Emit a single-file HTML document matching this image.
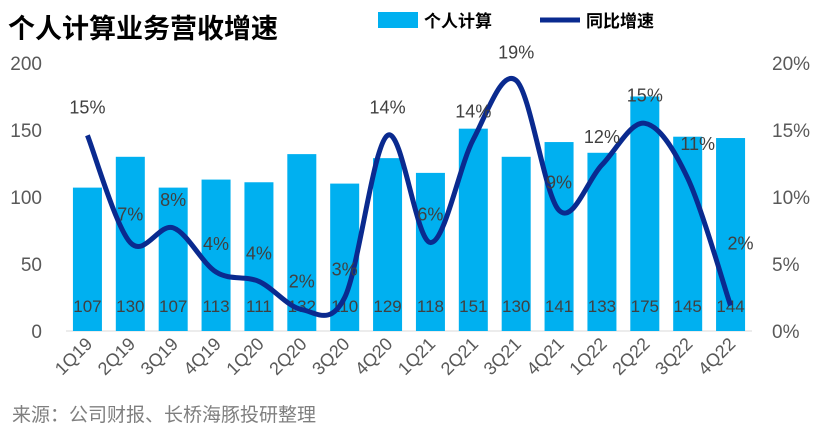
<!DOCTYPE html>
<html><head><meta charset="utf-8"><style>
body{margin:0;background:#fff;}
svg text{font-family:"Liberation Sans","Noto Sans CJK SC",sans-serif;}
</style></head><body>
<svg id="c" width="826" height="440" xmlns="http://www.w3.org/2000/svg">
<text x="8" y="38" font-size="27" font-weight="bold" fill="#000">个人计算业务营收增速</text>
<g>
<rect x="378" y="12" width="40" height="16" fill="#00B0F0"/>
<text x="424" y="27" font-size="17" font-weight="bold" fill="#000">个人计算</text>
<line x1="540" y1="20" x2="580" y2="20" stroke="#0A2A8F" stroke-width="5"/>
<text x="586" y="27" font-size="17" font-weight="bold" fill="#000">同比增速</text>
</g>
<g id="plot"></g>
<text x="12" y="421" font-size="19" fill="#7f7f7f">来源：公司财报、长桥海豚投研整理</text>
</svg>
<script>
const categories=["1Q19","2Q19","3Q19","4Q19","1Q20","2Q20","3Q20","4Q20","1Q21","2Q21","3Q21","4Q21","1Q22","2Q22","3Q22","4Q22"];
const revenue=[107,130,107,113,111,132,110,129,118,151,130,141,133,175,145,144];
const growth=[14.6,6.6,7.7,4.4,3.7,1.6,2.5,14.6,6.6,14.3,18.7,9.0,12.4,15.5,11.4,1.9];
const growthLabels=["15%","7%","8%","4%","4%","2%","3%","14%","6%","14%","19%","9%","12%","15%","11%","2%"];
const leftTicks=[0,50,100,150,200];
const rightTicks=[0,5,10,15,20];
const NS="http://www.w3.org/2000/svg";
const g=document.getElementById('plot');
const x0=66,x1=752,yB=331,yT=63;
const step=(x1-x0)/categories.length;
const xc=i=>x0+step*(i+0.5);
const yL=v=>yB-(v/200)*(yB-yT);
const yR=v=>yB-(v/20)*(yB-yT);
function mk(t,a,txt){const e=document.createElementNS(NS,t);for(const k in a)e.setAttribute(k,a[k]);if(txt!==undefined)e.textContent=txt;g.appendChild(e);return e;}
leftTicks.forEach(v=>{const e=mk('text',{x:42,y:yL(v)+7,'font-size':19,fill:'#595959','text-anchor':'end'},v);

});
rightTicks.forEach(v=>{const e=mk('text',{x:772,y:yR(v)+7,'font-size':19,fill:'#595959'},v+'%');

});
const ax=mk('line',{x1:x0,y1:yB,x2:x1,y2:yB,stroke:'#d9d9d9','stroke-width':1});


const bw=29;
revenue.forEach((v,i)=>{const r=mk('rect',{x:xc(i)-bw/2,y:yL(v),width:bw,height:yB-yL(v),fill:'#00B0F0'});

});
revenue.forEach((v,i)=>{const t=mk('text',{x:xc(i),y:312,'font-size':17,fill:'#404040','text-anchor':'middle'},v);

});
const pts=growth.map((v,i)=>[xc(i),yR(v)]);
let d='M'+pts[0][0]+','+pts[0][1];
for(let i=0;i<pts.length-1;i++){const p0=pts[i-1]||pts[i],p1=pts[i],p2=pts[i+1],p3=pts[i+2]||p2;
const c1=[p1[0]+(p2[0]-p0[0])/6,p1[1]+(p2[1]-p0[1])/6],c2=[p2[0]-(p3[0]-p1[0])/6,p2[1]-(p3[1]-p1[1])/6];
d+=` C${c1[0]},${c1[1]} ${c2[0]},${c2[1]} ${p2[0]},${p2[1]}`;}
const ln=mk('path',{d:d,fill:'none',stroke:'#0A2A8F','stroke-width':5,'stroke-linejoin':'round'});


growth.forEach((v,i)=>{let dy=-22;if(i==14)dy=-28;if(i==15)dy=-56;
const t=mk('text',{x:xc(i)+(i>=14?10:0),y:yR(v)+dy,'font-size':18,fill:'#404040','text-anchor':'middle'},growthLabels[i]);

});
categories.forEach((c,i)=>{const x=xc(i)+6,y=345;const t=mk('text',{x:x,y:y,'font-size':18,fill:'#595959','text-anchor':'end',transform:`rotate(-45 ${x} ${y})`},c);

});
</script>
</body></html>
